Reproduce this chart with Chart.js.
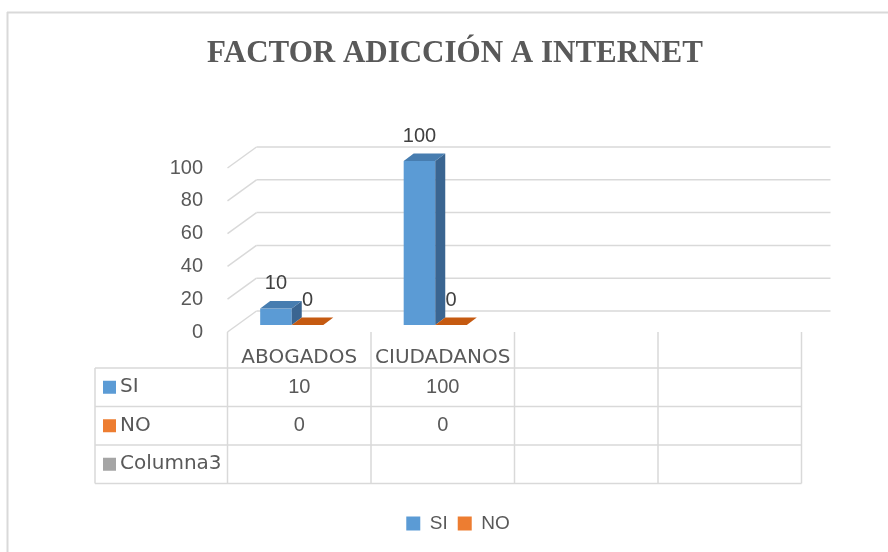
<!DOCTYPE html>
<html>
<head>
<meta charset="utf-8">
<script src="https://cdn.jsdelivr.net/npm/chart.js@4.4.1/dist/chart.umd.min.js"></script>
<style>
  body { margin: 0; background: #fff; }
  #wrap { width: 888px; height: 552px; position: relative; }
</style>
</head>
<body>
<div id="wrap"><canvas id="chart"></canvas></div>
<script>
// data
const chartTitle = 'FACTOR ADICCIÓN A INTERNET';
const categories = ['ABOGADOS', 'CIUDADANOS', '', ''];
const seriesNames = ['SI', 'NO', 'Columna3'];
const siValues = [10, 100, null, null];
const noValues = [0, 0, null, null];
const col3Values = [null, null, null, null];

const TEXT = '#595959';
const LINE = '#d9d9d9';

// colours per series: front, top, side
const faceColors = [
    { front: '#5b9bd5', top: '#477db0', side: '#3a6591' },
    { front: '#ed7d31', top: '#c55a11', side: '#a04a10' },
    { front: '#a5a5a5', top: '#8a8a8a', side: '#777777' }
];

// fake 3d: offsets of front plane / back wall / bar depth
const FRONT_DX = 7.5, FRONT_DY = 7;
const WALL_DX = 29, WALL_DY = -21;
const BAR_DX = 10, BAR_DY = -7.5;
const ROW_H = 38.5;

function line(ctx, x1, y1, x2, y2) {
    ctx.beginPath();
    ctx.moveTo(x1, y1);
    ctx.lineTo(x2, y2);
    ctx.stroke();
}

function poly(ctx, pts, color) {
    ctx.beginPath();
    ctx.moveTo(pts[0][0], pts[0][1]);
    for (let i = 1; i < pts.length; i++) ctx.lineTo(pts[i][0], pts[i][1]);
    ctx.closePath();
    ctx.fillStyle = color;
    ctx.fill();
}

const depth3d = {
    id: 'depth3d',
    beforeDatasetsDraw(chart) {
        const ctx = chart.ctx;
        const area = chart.chartArea;
        const y = chart.scales.y;
        const fl = area.left + FRONT_DX;
        ctx.save();
        ctx.strokeStyle = LINE;
        ctx.lineWidth = 1.5;
        y.ticks.forEach(t => {
            const fy = y.getPixelForValue(t.value) + FRONT_DY;
            const by = fy + WALL_DY;
            line(ctx, fl, fy, fl + WALL_DX, by);
            line(ctx, fl + WALL_DX, by, area.right + FRONT_DX + WALL_DX, by);
        });
        ctx.restore();
    },
    afterDatasetsDraw(chart) {
        const ctx = chart.ctx;
        ctx.save();
        chart.data.datasets.forEach((ds, di) => {
            if (!chart.isDatasetVisible(di)) return;
            const meta = chart.getDatasetMeta(di);
            const c = faceColors[di];
            meta.data.forEach((bar, i) => {
                if (ds.data[i] == null) return;
                const p = bar.getProps(['x', 'y', 'base', 'width'], true);
                const l = p.x - p.width / 2, r = p.x + p.width / 2;
                poly(ctx, [[r, p.y], [r + BAR_DX, p.y + BAR_DY], [r + BAR_DX, p.base + BAR_DY], [r, p.base]], c.side);
                poly(ctx, [[l, p.y], [r, p.y], [r + BAR_DX, p.y + BAR_DY], [l + BAR_DX, p.y + BAR_DY]], c.top);
                ctx.fillStyle = '#404040';
                ctx.font = '20px "Liberation Sans"';
                ctx.textAlign = 'center';
                ctx.textBaseline = 'middle';
                ctx.fillText(String(ds.data[i]), p.x, p.y - 25);
            });
        });
        ctx.restore();
    },
    afterDraw(chart) {
        const ctx = chart.ctx;
        const area = chart.chartArea;
        const y = chart.scales.y;
        const step = (area.right - area.left) / categories.length;
        const edges = [];
        for (let i = 0; i <= categories.length; i++) edges.push(area.left + FRONT_DX + i * step);
        const front0 = y.getPixelForValue(0) + FRONT_DY;
        const tableTop = front0 + 36;
        const tableLeft = 95;
        const rows = [siValues, noValues, col3Values];
        const tableBottom = tableTop + rows.length * ROW_H;

        ctx.save();
        // data table grid
        ctx.strokeStyle = LINE;
        ctx.lineWidth = 1.5;
        edges.forEach(ex => line(ctx, ex, front0, ex, tableBottom));
        line(ctx, tableLeft, tableTop, tableLeft, tableBottom);
        for (let r = 0; r <= rows.length; r++) {
            const ry = tableTop + r * ROW_H;
            line(ctx, tableLeft, ry, edges[edges.length - 1], ry);
        }
        // row headers + values
        ctx.textBaseline = 'middle';
        rows.forEach((vals, r) => {
            const cy = tableTop + r * ROW_H + ROW_H / 2;
            ctx.fillStyle = faceColors[r].front;
            ctx.fillRect(103, cy - 6.5, 13, 13);
            ctx.fillStyle = TEXT;
            ctx.font = '20px "DejaVu Sans"';
            ctx.textAlign = 'left';
            ctx.fillText(seriesNames[r], 120, cy);
            ctx.font = '20px "Liberation Sans"';
            ctx.textAlign = 'center';
            vals.forEach((v, i) => {
                if (v == null) return;
                ctx.fillText(String(v), (edges[i] + edges[i + 1]) / 2, cy);
            });
        });
        // title
        ctx.fillStyle = TEXT;
        ctx.font = 'bold 31px "Liberation Serif"';
        ctx.textAlign = 'center';
        ctx.textBaseline = 'alphabetic';
        ctx.fillText(chartTitle, 455, 62);
        // chart frame
        ctx.strokeStyle = LINE;
        ctx.lineWidth = 2;
        line(ctx, 7, 12.5, 888, 12.5);
        line(ctx, 7.5, 12, 7.5, 552);
        ctx.restore();
    }
};

new Chart(document.getElementById('chart'), {
    type: 'bar',
    data: {
        labels: categories,
        datasets: [
            { label: seriesNames[0], data: siValues, backgroundColor: faceColors[0].front },
            { label: seriesNames[1], data: noValues, backgroundColor: faceColors[1].front },
            // empty series: only shows up in the data table
            { label: seriesNames[2], data: col3Values, backgroundColor: faceColors[2].front, hidden: true }
        ]
    },
    options: {
        responsive: true,
        maintainAspectRatio: false,
        animation: false,
        layout: {
            padding: { left: 122, right: 94, top: 161, bottom: 9 }
        },
        datasets: {
            bar: {
                categoryPercentage: 0.44,
                barPercentage: 1.0
            }
        },
        plugins: {
            title: { display: false },
            tooltip: { enabled: false },
            legend: {
                position: 'bottom',
                onClick: null,
                labels: {
                    boxWidth: 14,
                    boxHeight: 14,
                    color: TEXT,
                    font: { family: 'Liberation Sans', size: 19 },
                    filter: item => item.text !== 'Columna3'
                }
            }
        },
        scales: {
            x: {
                grid: { display: false },
                border: { display: false },
                ticks: {
                    color: TEXT,
                    font: { family: 'DejaVu Sans', size: 20 },
                    padding: 13,
                    labelOffset: 7.5,
                    maxRotation: 0,
                    autoSkip: false
                },
                afterFit: s => { s.height = 179; }
            },
            y: {
                min: 0,
                max: 100,
                grid: { display: false, drawTicks: false },
                border: { display: false },
                ticks: {
                    stepSize: 20,
                    color: TEXT,
                    font: { family: 'Liberation Sans', size: 20 },
                    padding: 17,
                    labelOffset: 7
                },
                afterFit: s => { s.width = 98; }
            }
        }
    },
    plugins: [depth3d]
});
</script>
</body>
</html>
